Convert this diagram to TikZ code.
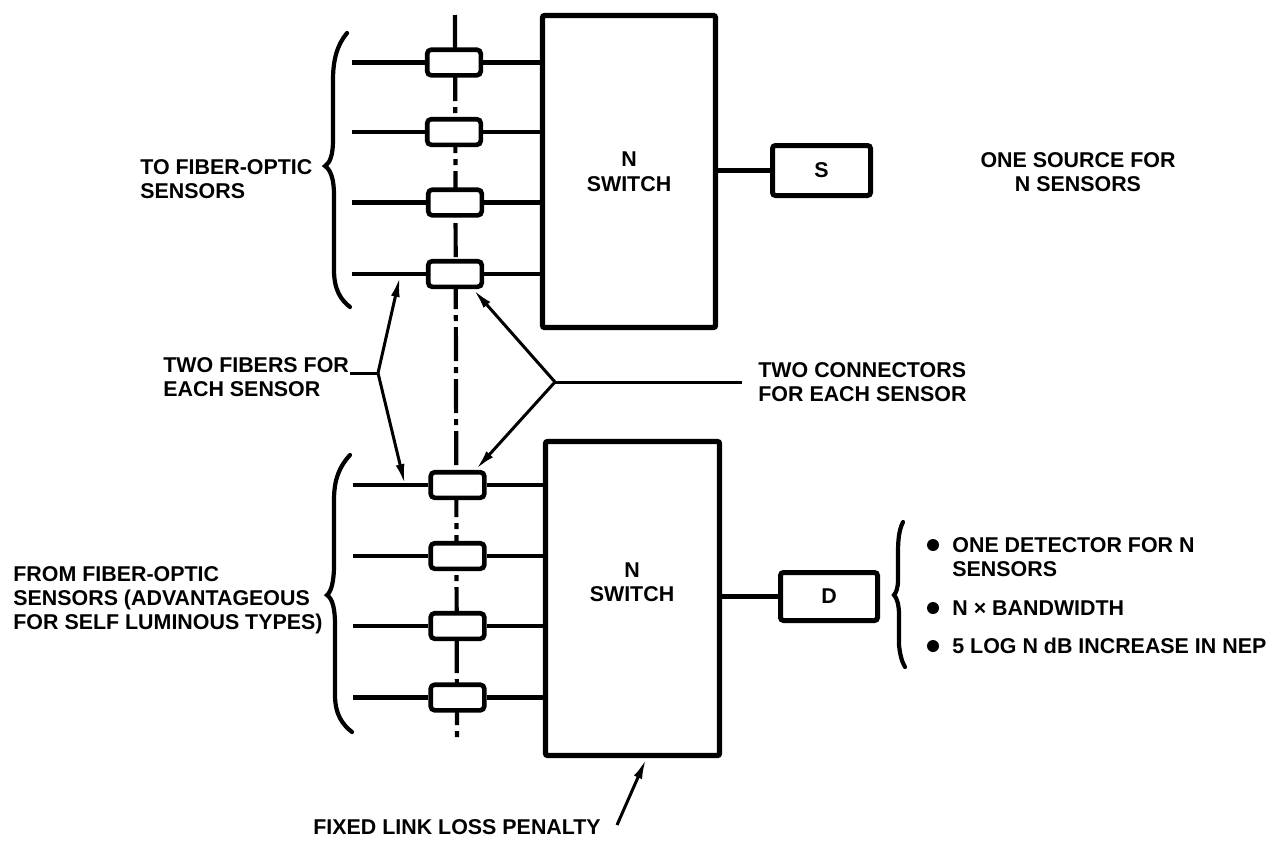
\documentclass[tikz,border=0pt]{standalone}
\usepackage{fontspec}
\setmainfont{Liberation Sans}
\usetikzlibrary{arrows.meta}
\begin{document}
\begin{tikzpicture}[x=0.5pt,y=-0.5pt,
  fib/.style={line width=2.1pt},
  switchbox/.style={draw, fill=white, line width=2.6pt, inner sep=0, rounded corners=1pt,
     font=\fontsize{10.7}{12.5}\selectfont\bfseries, align=center},
  conn/.style={draw, fill=white, line width=2.3pt, minimum width=26.8pt, minimum height=12.8pt,
     inner sep=0, rounded corners=2pt},
  smallbox/.style={draw, fill=white, line width=2.5pt, inner sep=0, rounded corners=1.5pt,
     font=\fontsize{10.7}{12.5}\selectfont\bfseries},
  lbl/.style={font=\fontsize{10.7}{12}\selectfont\bfseries, inner sep=0, align=left},
  ptr/.style={line width=1.5pt, shorten >=0.5pt, -{Latex[length=10pt,width=4.4pt]}},
  lead/.style={line width=1.5pt},
  brace/.style={line width=2.1pt, line cap=round},
  dashdot/.style={line width=2.1pt, dash pattern=on 17pt off 3pt on 3pt off 3pt},
  bullet/.style={circle, fill, inner sep=0, minimum size=6pt}
]
\useasboundingbox (0,0) rectangle (1288,841);

% dash-dot axis behind the connectors
\coordinate (dtop) at (455,15);
\coordinate (dbot) at (457,737);
\draw[dashdot] (dtop) -- (dbot);

% switches
\node[switchbox, minimum width=86.5pt, minimum height=156pt] (sw1) at (629,171.5) {N\\SWITCH};
\node[switchbox, minimum width=87pt, minimum height=157pt] (sw2) at (632.5,598.5) {};
\node[lbl, align=center] (sw2t) at (632,582) {N\\SWITCH};

% source and detector
\node[smallbox, minimum width=49pt, minimum height=25pt] (S) at (821.5,170.5) {S};
\node[smallbox, minimum width=48.5pt, minimum height=24pt] (D) at (829,596.5) {D};
\draw[fib] (S.west -| sw1.east) -- (S.west);
\draw[fib] (D.west -| sw2.east) -- (D.west);

% upper connectors and fibers
\node[conn] (c1) at (454,62.5) {};
\node[conn] (c2) at (454,132) {};
\node[conn] (c3) at (455,202.5) {};
\node[conn] (c4) at (455,274) {};
\coordinate (u1) at (352,62.5);
\coordinate (u2) at (352,132);
\coordinate (u3) at (352,202.5);
\coordinate (u4) at (352,274);
\foreach \i in {1,2,3,4}{
  \draw[fib] (u\i) -- (c\i.west);
  \draw[fib] (c\i.east) -- (c\i.east -| sw1.west);
}

% lower connectors and fibers
\node[conn] (l1) at (457.5,485) {};
\node[conn] (l2) at (457.5,556) {};
\node[conn] (l3) at (457.5,626) {};
\node[conn] (l4) at (457.5,697.5) {};
\coordinate (w1) at (353,485);
\coordinate (w2) at (353,556);
\coordinate (w3) at (353,626);
\coordinate (w4) at (353,697.5);
\foreach \i in {1,2,3,4}{
  \draw[fib] (w\i) -- (l\i.west);
  \draw[fib] (l\i.east) -- (l\i.east -| sw2.west);
}

% braces
\draw[brace] (347,33) .. controls (337,45) and (333,60) .. (333,80) -- (333,140)
  .. controls (333,155) and (330,163) .. (325,166)
  .. controls (331,170) and (334,180) .. (334,195) -- (334,270)
  .. controls (334,290) and (341,300) .. (350,307);
\draw[brace] (350,455) .. controls (339,467) and (334,480) .. (334,500) -- (334,565)
  .. controls (334,582) and (331,592) .. (327,595)
  .. controls (333,599) and (335,610) .. (335,625) -- (335,695)
  .. controls (335,715) and (343,725) .. (352,732);
\draw[brace] (903,522) .. controls (899,530) and (898,540) .. (898,552) -- (898,580)
  .. controls (898,588) and (896,593) .. (894,595)
  .. controls (897,598) and (899,605) .. (899,615) -- (899,645)
  .. controls (900,655) and (902,662) .. (905,667);

% left texts
\node[lbl, anchor=west] (tto) at (140,179) {TO FIBER-OPTIC\\SENSORS};
\node[lbl, anchor=west] (tfrom) at (13,600) {FROM FIBER-OPTIC\\SENSORS (ADVANTAGEOUS\\FOR SELF LUMINOUS TYPES)};

% two fibers annotation
\node[lbl, anchor=west] (tfib) at (163,377) {TWO FIBERS FOR\\EACH SENSOR};
\coordinate (fl) at (350,373);
\coordinate (fj) at (378,373);
\coordinate (ft) at (400,276);
\coordinate (fb) at (405,485);
\draw[lead] (fl) -- (fj);
\draw[ptr] (fj) -- (ft);
\draw[ptr] (fj) -- (fb);

% two connectors annotation
\node[lbl, anchor=west] (tcon) at (758,382) {TWO CONNECTORS\\FOR EACH SENSOR};
\coordinate (cj) at (555,382);
\coordinate (cr) at (742,382);
\draw[lead] (cj) -- (cr);
\draw[ptr] (cj) -- (c4.-40);
\draw[ptr] (cj) -- (l1.40);

% source note
\node[lbl, align=center] (tsrc) at (1078,172) {ONE SOURCE FOR\\N SENSORS};

% detector notes
\node[bullet] (b1) at (933,545) {};
\node[bullet] (b2) at (933,608) {};
\node[bullet] (b3) at (933,646) {};
\node[lbl, anchor=north west] (d1) at (952,537) {ONE DETECTOR FOR N\\SENSORS};
\node[lbl, anchor=west] (d2) at (952,608) {N × BANDWIDTH};
\node[lbl, anchor=west] (d3) at (952,646) {5 LOG N dB INCREASE IN NEP};

% penalty
\node[lbl, anchor=west] (tpen) at (313,827) {FIXED LINK LOSS PENALTY};
\coordinate (pa) at (617,825);
\draw[ptr] (pa) -- (sw2.-85);
\end{tikzpicture}
\end{document}
